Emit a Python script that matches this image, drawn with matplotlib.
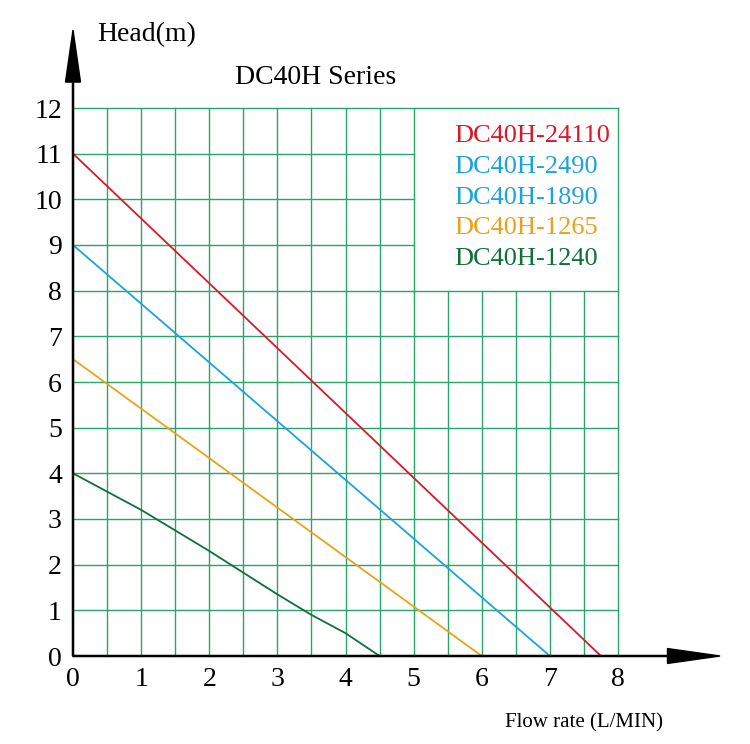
import matplotlib
matplotlib.use("Agg")
import matplotlib.pyplot as plt
import numpy as np

# ----------------------------------------------------------------------
# Pump curves (flow L/MIN, head m)
flow_24110 = [0, 7.75]
head_24110 = [11, 0]
flow_2490 = [0, 7.0]
head_2490 = [9, 0]
flow_1265 = [0, 6.0]
head_1265 = [6.5, 0]
flow_1240 = [0, 1, 2, 3, 3.5, 4, 4.5]
head_1240 = [4, 3.2, 2.3, 1.35, 0.9, 0.5, 0]

models = ["DC40H-24110", "DC40H-2490", "DC40H-1890", "DC40H-1265", "DC40H-1240"]
model_colors = ["#d7192a", "#1ba3dc", "#1ba3dc", "#eaa21a", "#11703a"]
# ----------------------------------------------------------------------

GRID = "#2aa56a"
SERIF = "Liberation Serif"

fig = plt.figure(figsize=(7.5, 7.44), dpi=100)
ax = fig.add_axes([73 / 750, 1 - 656 / 744, (618 - 73) / 750, (656 - 108) / 744])
ax.set_xlim(0, 8)
ax.set_ylim(0, 12)

# grid, with the legend corner (x 5..8, y 8..12) left blank
for xv in np.arange(0.5, 8.01, 0.5):
    top = 8 if 5.01 < xv < 7.99 else 12
    ax.plot([xv, xv], [0, top], color=GRID, lw=1, zorder=1, clip_on=False)
for yv in range(1, 13):
    right = 5 if 8 < yv < 12 else 8
    ax.plot([0, right], [yv, yv], color=GRID, lw=1, zorder=1, clip_on=False)
for s in ax.spines.values():
    s.set_visible(False)

ax.plot(flow_24110, head_24110, color=model_colors[0], lw=1.3, zorder=3)
ax.plot(flow_2490, head_2490, color=model_colors[1], lw=1.3, zorder=3)
ax.plot(flow_1265, head_1265, color=model_colors[3], lw=1.3, zorder=3)
ax.plot(flow_1240, head_1240, color=model_colors[4], lw=1.3, zorder=3)

ax.set_xticks(range(0, 9))
ax.set_yticks(range(0, 13))
ax.tick_params(length=0, labelsize=20, pad=8)
for lab in ax.get_xticklabels() + ax.get_yticklabels():
    lab.set_fontfamily(SERIF)

for i, (m, c) in enumerate(zip(models, model_colors)):
    ax.text(5.6, 11.38 - i * 0.67, m, color=c, fontsize=19, family=SERIF,
            va="center", ha="left")

# axis arrows
fig.patches.append(matplotlib.patches.FancyArrow(
    73 / 750, 1 - 656 / 744, (720 - 73) / 750, 0, width=0.0015,
    head_width=0.02, head_length=0.07, length_includes_head=True,
    color="black", transform=fig.transFigure, figure=fig))
fig.patches.append(matplotlib.patches.FancyArrow(
    73 / 750, 1 - 656 / 744, 0, (656 - 30) / 744, width=0.0015,
    head_width=0.02, head_length=0.07, length_includes_head=True,
    color="black", transform=fig.transFigure, figure=fig))

fig.text(97 / 750, 1 - 35 / 744, "Head(m)", fontsize=20, family=SERIF, va="center")
fig.text(235 / 750, 1 - 77 / 744, "DC40H Series", fontsize=20, family=SERIF, va="center")
fig.text(505 / 750, 1 - 723 / 744, "Flow rate (L/MIN)", fontsize=15, family=SERIF, va="center")

fig.savefig("out.png", dpi=100, facecolor="white")
